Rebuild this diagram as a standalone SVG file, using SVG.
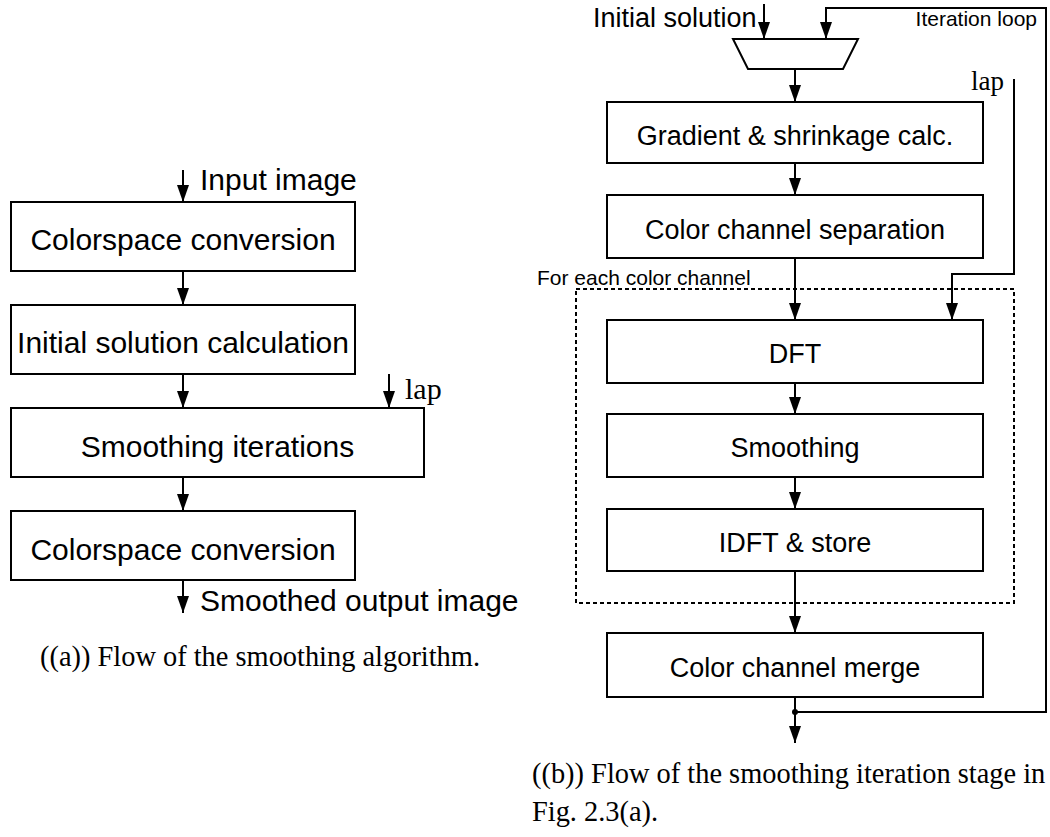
<svg xmlns="http://www.w3.org/2000/svg" width="1050" height="837" viewBox="0 0 1050 837">
<defs>
<style>
.box{fill:#fff;stroke:#000;stroke-width:2}
.ln{fill:none;stroke:#000;stroke-width:2}
.arr{fill:none;stroke:#000;stroke-width:2;marker-end:url(#ah)}
.dash{fill:none;stroke:#000;stroke-width:2;stroke-dasharray:4 3}
.tl{font-family:"Liberation Sans",Arial,sans-serif;font-size:30px;fill:#000}
.tr{font-family:"Liberation Sans",Arial,sans-serif;font-size:27px;fill:#000}
.ts{font-family:"Liberation Sans",Arial,sans-serif;font-size:21px;fill:#000}
.cap{font-family:"Liberation Serif","Times New Roman",serif;font-size:28.4px;fill:#000}
.lapl{font-family:"Liberation Serif","Times New Roman",serif;font-size:30px;fill:#000}
.lapr{font-family:"Liberation Serif","Times New Roman",serif;font-size:27px;fill:#000}
.c{text-anchor:middle}
</style>
<marker id="ah" markerUnits="userSpaceOnUse" markerWidth="17" markerHeight="12" refX="17" refY="6" orient="auto">
<path d="M0,0 L17,6 L0,12 z" fill="#000"/>
</marker>
</defs>
<rect width="1050" height="837" fill="#fff"/>

<!-- connectors -->
<g id="connectors">
<line class="arr" x1="183" y1="170" x2="183" y2="202"/>
<line class="arr" x1="183" y1="271" x2="183" y2="305"/>
<line class="arr" x1="183" y1="374" x2="183" y2="408"/>
<line class="arr" x1="389" y1="374" x2="389" y2="408"/>
<line class="arr" x1="183" y1="477" x2="183" y2="511"/>
<line class="arr" x1="183" y1="580" x2="183" y2="613"/>

<line class="arr" x1="764" y1="4" x2="764" y2="39"/>
<polyline class="arr" points="795,712 1046,712 1046,8 826,8 826,39"/>
<line class="arr" x1="795" y1="69" x2="795" y2="102"/>
<line class="arr" x1="795" y1="163" x2="795" y2="195"/>
<line class="arr" x1="795" y1="258" x2="795" y2="320"/>
<polyline class="arr" points="1014,79 1014,274 952,274 952,320"/>
<line class="arr" x1="795" y1="383" x2="795" y2="414"/>
<line class="arr" x1="795" y1="477" x2="795" y2="509"/>
<line class="arr" x1="795" y1="571" x2="795" y2="633"/>
<line class="arr" x1="795" y1="697" x2="795" y2="743"/>
<circle cx="795" cy="712" r="3" fill="#000"/>
</g>

<!-- left diagram -->
<text class="tl" x="200" y="190">Input image</text>
<g id="l-cs1"><rect class="box" x="11" y="202" width="344" height="69"/><text class="tl c" x="183" y="250">Colorspace conversion</text></g>
<g id="l-init"><rect class="box" x="11" y="305" width="344" height="69"/><text class="tl c" x="183" y="353">Initial solution calculation</text></g>
<text class="lapl" x="405" y="399">lap</text>
<g id="l-smooth"><rect class="box" x="11" y="408" width="413" height="69"/><text class="tl c" x="217.5" y="457">Smoothing iterations</text></g>
<g id="l-cs2"><rect class="box" x="11" y="511" width="344" height="69"/><text class="tl c" x="183" y="560">Colorspace conversion</text></g>
<text class="tl" x="200" y="611">Smoothed output image</text>
<text class="cap" x="40" y="666">((a)) Flow of the smoothing algorithm.</text>

<!-- right diagram -->
<text class="tr" x="593" y="27">Initial solution</text>
<text class="ts" x="1037" y="26" text-anchor="end">Iteration loop</text>
<g id="r-mux"><polygon class="box" points="733,39 858,39 843,69 748,69"/></g>
<text class="lapr" x="1004" y="90" text-anchor="end">lap</text>
<g id="r-grad"><rect class="box" x="607" y="102" width="376" height="61"/><text class="tr c" x="795" y="145">Gradient &amp; shrinkage calc.</text></g>
<g id="r-sep"><rect class="box" x="607" y="195" width="376" height="63"/><text class="tr c" x="795" y="239">Color channel separation</text></g>
<g id="r-loop"><rect class="dash" x="576" y="289" width="438" height="314"/><text class="ts" x="537" y="285">For each color channel</text></g>
<g id="r-dft"><rect class="box" x="607" y="320" width="376" height="63"/><text class="tr c" x="795" y="363">DFT</text></g>
<g id="r-smooth"><rect class="box" x="607" y="414" width="376" height="63"/><text class="tr c" x="795" y="457">Smoothing</text></g>
<g id="r-idft"><rect class="box" x="607" y="509" width="376" height="62"/><text class="tr c" x="795" y="552">IDFT &amp; store</text></g>
<g id="r-merge"><rect class="box" x="607" y="633" width="376" height="64"/><text class="tr c" x="795" y="677">Color channel merge</text></g>
<text class="cap" x="532" y="783">((b)) Flow of the smoothing iteration stage in</text>
<text class="cap" x="532" y="821">Fig. 2.3(a).</text>
</svg>
